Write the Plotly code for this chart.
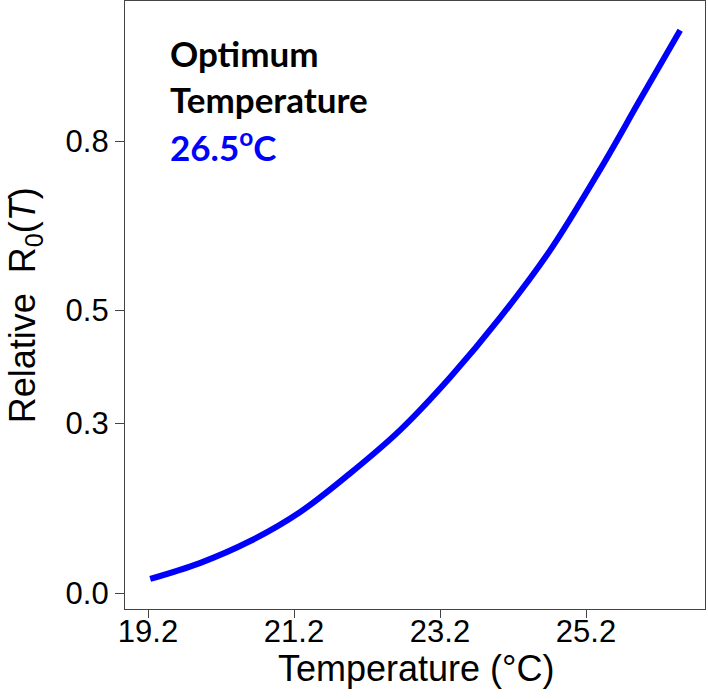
import plotly.graph_objects as go

temperature = [19.23, 19.91, 20.60, 21.28, 21.96, 22.65, 23.34, 24.02, 24.71, 25.39, 25.94, 26.49]
relative_r0 = [0.025, 0.053, 0.092, 0.143, 0.211, 0.288, 0.382, 0.487, 0.607, 0.749, 0.873, 0.996]

x_ticks = [19.2, 21.2, 23.2, 25.2]
x_ticktext = ["19.2", "21.2", "23.2", "25.2"]
y_ticks = [0.0, 0.3, 0.5, 0.8]
y_ticktext = ["0.0", "0.3", "0.5", "0.8"]

fig = go.Figure()
fig.add_trace(go.Scatter(x=temperature, y=relative_r0, mode="lines",
                         line=dict(color="#0000FF", width=6, shape="spline", smoothing=1.0),
                         showlegend=False, hoverinfo="skip"))

axis_font = dict(family="Liberation Sans, Arial", size=31, color="black")
title_font = dict(family="Liberation Sans, Arial", size=36, color="black")
fig.update_layout(
    width=708, height=699,
    margin=dict(l=125, r=3, t=1, b=90),
    plot_bgcolor="white", paper_bgcolor="white",
    xaxis=dict(range=[18.885, 26.83], tickvals=x_ticks, ticktext=x_ticktext,
               showgrid=False, zeroline=False, showline=True, mirror=True,
               linecolor="#444", linewidth=1.3, ticks="outside", ticklen=8,
               tickcolor="#444", tickwidth=1.3, tickfont=axis_font,
               ticklabelstandoff=-13),
    yaxis=dict(range=[-0.0283, 1.048], tickvals=y_ticks, ticktext=y_ticktext,
               showgrid=False, zeroline=False, showline=True, mirror=True,
               linecolor="#444", linewidth=1.3, ticks="outside", ticklen=9,
               tickcolor="#444", tickwidth=1.3, tickfont=axis_font),
)

fig.add_annotation(xref="paper", yref="paper", x=0.502, y=-0.098, xanchor="center", yanchor="middle",
                   text="Temperature (\u00b0C)", showarrow=False, font=title_font)
fig.add_annotation(xref="paper", yref="paper", x=-0.172, y=0.5, xanchor="center", yanchor="middle",
                   text="Relative&nbsp; R<sub>0</sub>(<i>T</i>)", textangle=-90, showarrow=False, font=title_font)

ann_font = dict(family="Lato", size=35, color="black", weight="bold")
fig.add_annotation(xref="paper", yref="paper", x=0.074, y=0.914, xanchor="left", yanchor="middle",
                   text="Optimum", showarrow=False, font=ann_font)
fig.add_annotation(xref="paper", yref="paper", x=0.074, y=0.838, xanchor="left", yanchor="middle",
                   text="Temperature", showarrow=False, font=ann_font)
fig.add_annotation(xref="paper", yref="paper", x=0.074, y=0.763, xanchor="left", yanchor="middle",
                   text="26.5<sup>o</sup>C", showarrow=False,
                   font=dict(family="Lato", size=35, color="#0000FF", weight="bold"))

fig.write_html("out.html")
